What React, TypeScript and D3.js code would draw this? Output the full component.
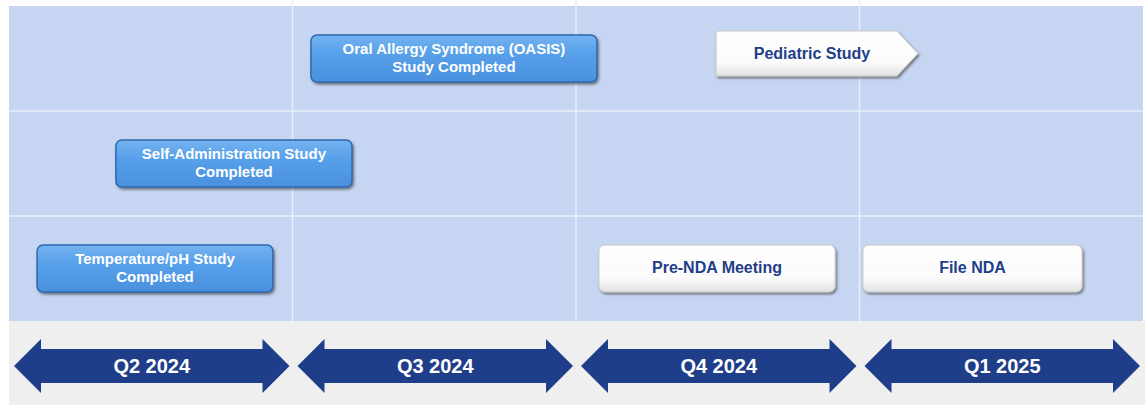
import * as d3 from "d3";

const quarters = ["Q2 2024", "Q3 2024", "Q4 2024", "Q1 2025"];

// milestones, positions in quarters from the start of Q2 2024
const milestoneLines = [
  ["Oral Allergy Syndrome (OASIS)", "Study Completed"],
  ["Self-Administration Study", "Completed"],
  ["Temperature/pH Study", "Completed"],
  ["Pre-NDA Meeting"],
  ["File NDA"],
  ["Pediatric Study"],
];
const milestoneStart = [1.065, 0.377, 0.099, 2.081, 3.012, 2.494];
const milestoneEnd = [2.074, 1.21, 0.931, 2.914, 3.785, 3.206];
const milestoneRow = [0, 1, 2, 2, 2, 0];
const milestoneKind = ["done", "done", "done", "planned", "planned", "ongoing"];

const W = 1145;
const H = 407;
const left = 9;
const right = 1143;
const top = 6;
const gridBottom = 321;
const bandBottom = 405;

const x = d3.scaleLinear().domain([0, quarters.length]).range([left, right]);
const y = d3.scaleBand<number>().domain([0, 1, 2]).range([top, gridBottom]);

const NAVY = "#1f3e8a";
const BOX_H = 47;

function doubleArrow(x0: number, x1: number, cy: number) {
  const hl = 27, hh = 27, sh = 17;
  const p = d3.path();
  p.moveTo(x0, cy);
  p.lineTo(x0 + hl, cy - hh);
  p.lineTo(x0 + hl, cy - sh);
  p.lineTo(x1 - hl, cy - sh);
  p.lineTo(x1 - hl, cy - hh);
  p.lineTo(x1, cy);
  p.lineTo(x1 - hl, cy + hh);
  p.lineTo(x1 - hl, cy + sh);
  p.lineTo(x0 + hl, cy + sh);
  p.lineTo(x0 + hl, cy + hh);
  p.closePath();
  return p.toString();
}

function pentagon(x0: number, x1: number, y0: number, h: number) {
  const tip = 21;
  const p = d3.path();
  p.moveTo(x0, y0);
  p.lineTo(x1 - tip, y0);
  p.lineTo(x1, y0 + h / 2);
  p.lineTo(x1 - tip, y0 + h);
  p.lineTo(x0, y0 + h);
  p.closePath();
  return p.toString();
}

export default function App() {
  const bandCy = (gridBottom + bandBottom) / 2 + 3;
  return (
    <svg
      width={W}
      height={H}
      style={{ position: "absolute", left: 0, top: 0, background: "#fff" }}
      fontFamily="'Liberation Sans', Arial, sans-serif"
    >
      <defs>
        <linearGradient id="blueFill" x1="0" y1="0" x2="0" y2="1">
          <stop offset="0" stopColor="#74b3f0" />
          <stop offset="0.4" stopColor="#57a0ea" />
          <stop offset="1" stopColor="#4a90de" />
        </linearGradient>
        <linearGradient id="whiteFill" x1="0" y1="0" x2="0" y2="1">
          <stop offset="0" stopColor="#ffffff" />
          <stop offset="0.7" stopColor="#fbfbfb" />
          <stop offset="1" stopColor="#e2e2e2" />
        </linearGradient>
        <filter id="shadow" x="-10%" y="-20%" width="120%" height="150%">
          <feDropShadow dx="1.5" dy="2" stdDeviation="1.2" floodColor="#333" floodOpacity="0.55" />
        </filter>
      </defs>

      {/* grid background */}
      <rect x={left} y={top} width={right - left} height={gridBottom - top} fill="#c6d5f1" />
      <rect x={left} y={gridBottom} width={W - left} height={bandBottom - gridBottom} fill="#efefef" />
      {y.domain().slice(1).map((r) => (
        <line key={"h" + r} x1={left} x2={right} y1={y(r)} y2={y(r)} stroke="#e9eff9" strokeWidth={1.5} />
      ))}
      {d3.range(1, quarters.length).map((q) => (
        <line key={"v" + q} x1={x(q)} x2={x(q)} y1={0} y2={gridBottom} stroke="#e9eff9" strokeWidth={1.5} />
      ))}

      {/* quarter arrows */}
      {quarters.map((q, i) => {
        const x0 = x(i) + 5;
        const x1 = x(i + 1) - 3;
        return (
          <g key={q}>
            <path d={doubleArrow(x0, x1, bandCy)} fill={NAVY} />
            <text
              x={(x0 + x1) / 2}
              y={bandCy + 7}
              textAnchor="middle"
              fill="#fff"
              fontWeight="bold"
              fontSize={20}
            >
              {q}
            </text>
          </g>
        );
      })}

      {/* milestones */}
      {milestoneLines.map((lines, i) => {
        const x0 = x(milestoneStart[i]);
        const x1 = x(milestoneEnd[i]);
        const kind = milestoneKind[i];
        const done = kind === "done";
        const cy = (y(milestoneRow[i]) as number) + y.bandwidth() / 2 + (kind === "ongoing" ? -4 : 0);
        const y0 = cy - BOX_H / 2;
        const fs = done ? 15 : 16;
        const lh = 18;
        const tx = kind === "ongoing" ? (x0 + x1) / 2 - 5 : (x0 + x1) / 2;
        return (
          <g key={i}>
            {kind === "ongoing" ? (
              <path
                d={pentagon(x0, x1, y0, BOX_H - 2)}
                fill="url(#whiteFill)"
                stroke="#c8c8c8"
                strokeWidth={1}
                filter="url(#shadow)"
              />
            ) : (
              <rect
                x={x0}
                y={y0}
                width={x1 - x0}
                height={BOX_H}
                rx={6}
                fill={done ? "url(#blueFill)" : "url(#whiteFill)"}
                stroke={done ? "#2f68ae" : "#c8c8c8"}
                strokeWidth={done ? 1.5 : 1}
                filter="url(#shadow)"
              />
            )}
            {lines.map((ln, j) => (
              <text
                key={j}
                x={tx}
                y={cy + (j - (lines.length - 1) / 2) * lh + fs * 0.36 - 1}
                textAnchor="middle"
                fill={done ? "#fff" : NAVY}
                fontWeight="bold"
                fontSize={fs}
              >
                {ln}
              </text>
            ))}
          </g>
        );
      })}
    </svg>
  );
}
